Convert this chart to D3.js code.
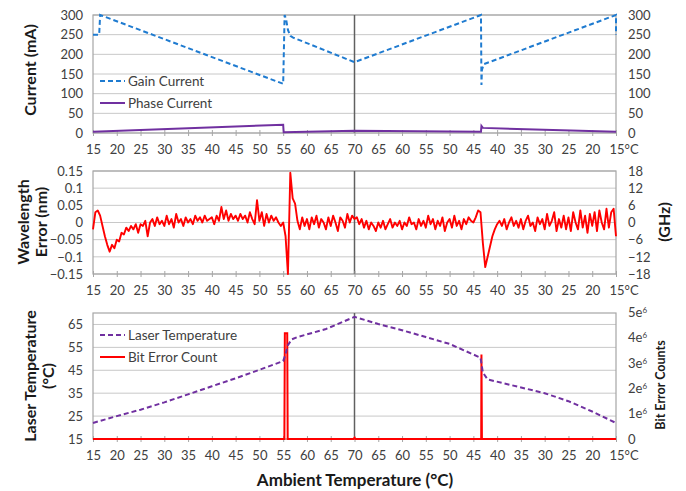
<!DOCTYPE html>
<html>
<head>
<meta charset="utf-8">
<script src="https://cdn.jsdelivr.net/npm/d3@7"></script>
<style>
  body { margin: 0; background: #fff; }
  svg { font-family: Lato, "Open Sans", sans-serif; }
</style>
</head>
<body>
<div id="chart"></div>
<script>
// sweep position: 0..55 = 15->70 °C heating, 55..110 = 70->15 °C cooling
var sweepTicks = d3.range(0, 111, 5);
var tickLabels = ["15","20","25","30","35","40","45","50","55","60","65","70",
                  "65","60","55","50","45","40","35","30","25","20","15°C"];

// top panel (mA)
var gainS   = [0, 1.3, 1.5, 40, 40.3, 40.6, 41, 41.5, 42, 55, 81.6, 81.7, 81.8, 82, 82.2, 110, 110];
var gainMA  = [250, 250, 300, 125, 300, 290, 262, 247, 243, 180, 300, 122, 160, 168, 175, 300, 250];
var phaseS  = [0, 40, 40.1, 55, 81.6, 81.7, 82, 110];
var phaseMA = [3, 21, 2, 6, 3, 18, 13, 3];

// middle panel, wavelength error (nm), one sample every 0.5 of sweep
var waveErr = [
  -0.02, 0.03, 0.035, 0.02, -0.01, -0.04, -0.065, -0.085, -0.065, -0.075,
  -0.05, -0.055, -0.03, -0.035, -0.015, -0.025, -0.01, -0.02, -0.005, -0.03,
  -0.005, -0.01, 0.005, -0.04, 0.0, 0.01, -0.01, 0.015, -0.005, 0.005,
  -0.01, 0.02, -0.005, 0.01, -0.015, 0.025, 0.0, 0.01, -0.01, 0.015,
  0.0, 0.01, -0.005, 0.02, 0.005, 0.015, 0.0, 0.02, 0.005, 0.01,
  0.015, -0.005, 0.02, 0.005, 0.045, 0.01, 0.035, 0.005, 0.025, 0.01,
  0.02, 0.005, 0.025, 0.01, 0.02, 0.0, 0.03, 0.01, -0.005, 0.065,
  0.005, 0.03, -0.01, 0.025, 0.0, 0.02, 0.005, 0.015, 0.0, -0.01,
  0.0, -0.04, -0.15, 0.145, 0.07, 0.055, 0.005, -0.02, 0.015, -0.01,
  0.01, -0.02, 0.015, -0.005, 0.02, -0.015, 0.01, 0.0, -0.02, 0.015,
  -0.01, 0.02, 0.0, -0.025, 0.015, 0.005, -0.015, 0.025, 0.0, 0.02,
  0.01, 0.015, -0.005, 0.01, -0.015, 0.005, -0.02, 0.0, -0.01, -0.025,
  0.0, -0.015, 0.005, -0.02, -0.005, 0.01, -0.015, 0.0, -0.01, 0.005,
  -0.02, 0.0, -0.01, 0.015, -0.005, 0.0, -0.02, 0.01, -0.01, 0.005,
  -0.015, 0.02, -0.005, 0.01, -0.02, 0.005, -0.01, 0.015, -0.025, 0.0,
  0.01, -0.015, 0.02, -0.01, 0.005, -0.02, 0.01, -0.005, 0.015, 0.005,
  0.0, 0.015, 0.035, 0.03, -0.06, -0.13, -0.1, -0.07, -0.04, -0.02,
  -0.005, 0.005, -0.01, 0.01, -0.02, 0.0, 0.015, -0.01, 0.005, -0.015,
  0.01, -0.02, 0.005, 0.02, -0.01, 0.0, -0.025, 0.015, -0.005, 0.01,
  -0.02, 0.025, -0.01, 0.005, 0.03, -0.025, 0.01, -0.015, 0.02, -0.02,
  0.015, -0.025, 0.03, 0.0, -0.02, 0.035, -0.015, 0.02, -0.03, 0.025,
  -0.01, 0.03, -0.025, 0.035, 0.0, -0.02, 0.04, -0.015, 0.03, 0.04,
  -0.04
];
var waveS = d3.range(waveErr.length).map(function(i) { return i * 0.5; });

// bottom panel
var laserS = [0, 5, 10, 15, 20, 25, 30, 35, 40, 40.5, 41, 41.8, 43, 49, 55, 60, 65, 70, 75, 81.5, 82, 83, 88, 95, 100, 105, 110];
var laserT = [22, 25, 27.8, 31, 34.5, 38, 41.5, 45.2, 49, 52, 56, 58.5, 59.5, 63, 68.3, 65.2, 62.5, 59.5, 56.5, 50.5, 44, 41, 38.5, 35, 31.5, 27, 22];
var berS   = [0, 40.25, 40.35, 40.85, 40.95, 54.8, 55, 55.2, 81.65, 81.7, 81.8, 110];
var berCnt = [0, 0, 4.2e6, 4.2e6, 0, 0, 0.05e6, 0, 0, 3.35e6, 0, 0];

var blue = "#1f7bd0", purple = "#7030a0", red = "#ff0000";
var txtCol = "#404040", gridCol = "#c8c8c8", boxCol = "#a6a6a6";

var W = 686, H = 491;
var svg = d3.select("#chart").append("svg").attr("width", W).attr("height", H);

var x = d3.scaleLinear().domain([0, 110]).range([93, 616]);

function panel(top, bottom, leftDomain, leftTicks, leftFmt, rightDomain, rightTicks, rightFmt) {
  var yl = d3.scaleLinear().domain(leftDomain).range([bottom, top]);
  var yr = d3.scaleLinear().domain(rightDomain).range([bottom, top]);
  var g = svg.append("g");

  // grid
  g.selectAll(".grid").data(leftTicks).enter().append("line")
    .attr("x1", x(0)).attr("x2", x(110))
    .attr("y1", function(d) { return yl(d); }).attr("y2", function(d) { return yl(d); })
    .attr("stroke", gridCol).attr("stroke-width", 1);

  // box
  g.append("rect").attr("x", x(0)).attr("y", top)
    .attr("width", x(110) - x(0)).attr("height", bottom - top)
    .attr("fill", "none").attr("stroke", boxCol).attr("stroke-width", 1.2);

  // turning point at 70 °C
  g.append("line").attr("x1", x(55)).attr("x2", x(55)).attr("y1", top).attr("y2", bottom)
    .attr("stroke", "#606060").attr("stroke-width", 1.5);

  // left axis
  g.append("g").attr("transform", "translate(" + x(0) + ",0)")
    .call(d3.axisLeft(yl).tickValues(leftTicks).tickFormat(leftFmt).tickSize(0).tickPadding(10))
    .call(function(a) { a.select(".domain").remove(); });

  // right axis
  g.append("g").attr("transform", "translate(" + x(110) + ",0)")
    .call(d3.axisRight(yr).tickValues(rightTicks).tickFormat(rightFmt).tickSize(0).tickPadding(12))
    .call(function(a) { a.select(".domain").remove(); });

  // bottom axis
  var xa = g.append("g").attr("transform", "translate(0," + bottom + ")")
    .call(d3.axisBottom(x).tickValues(sweepTicks).tickSize(3).tickPadding(9)
      .tickFormat(function(d, i) { return tickLabels[i]; }));
  xa.select(".domain").remove();
  xa.selectAll(".tick line").attr("y1", -3).attr("stroke", boxCol);
  xa.selectAll(".tick text").filter(function(d, i) { return i === sweepTicks.length - 1; })
    .attr("text-anchor", "start").attr("dx", "-7");

  g.selectAll(".tick text").attr("fill", txtCol).style("font-size", "13px")
    .style("font-family", "Lato, 'Open Sans', sans-serif");

  return { g: g, yl: yl, yr: yr };
}

function pairs(xs, ys) { return xs.map(function(v, i) { return [v, ys[i]]; }); }

// ---------- top panel ----------
var p1 = panel(15, 133, [0, 300], d3.range(0, 301, 50), d3.format("d"),
               [0, 300], d3.range(0, 301, 50), d3.format("d"));
var l1 = d3.line().x(function(d) { return x(d[0]); }).y(function(d) { return p1.yl(d[1]); });
p1.g.append("path").datum(pairs(phaseS, phaseMA)).attr("d", l1)
  .attr("fill", "none").attr("stroke", purple).attr("stroke-width", 2);
p1.g.append("path").datum(pairs(gainS, gainMA)).attr("d", l1)
  .attr("fill", "none").attr("stroke", blue).attr("stroke-width", 2).attr("stroke-dasharray", "5,3");

// ---------- middle panel ----------
var p2 = panel(171, 274, [-0.15, 0.15], [-0.15, -0.1, -0.05, 0, 0.05, 0.1, 0.15],
               function(d) { return d === 0 ? "0" : d3.format("")(+d.toFixed(2)); },
               [-18, 18], d3.range(-18, 19, 6), d3.format("d"));
var l2 = d3.line().x(function(d) { return x(d[0]); }).y(function(d) { return p2.yl(d[1]); });
p2.g.append("path").datum(pairs(waveS, waveErr)).attr("d", l2)
  .attr("fill", "none").attr("stroke", red).attr("stroke-width", 1.9).attr("stroke-linejoin", "round");

// ---------- bottom panel ----------
var p3 = panel(313, 439, [15, 70], d3.range(15, 66, 10), d3.format("d"),
               [0, 5e6], d3.range(0, 5e6 + 1, 1e6), function(d) { return d === 0 ? "0" : ""; });
var l3a = d3.line().x(function(d) { return x(d[0]); }).y(function(d) { return p3.yl(d[1]); });
var l3b = d3.line().x(function(d) { return x(d[0]); }).y(function(d) { return p3.yr(d[1]); });
p3.g.append("path").datum(pairs(berS, berCnt)).attr("d", l3b)
  .attr("fill", "none").attr("stroke", red).attr("stroke-width", 2);
p3.g.append("path").datum(pairs(laserS, laserT)).attr("d", l3a)
  .attr("fill", "none").attr("stroke", purple).attr("stroke-width", 2).attr("stroke-dasharray", "5,3");

// right-axis labels as mantissa + superscript
p3.g.selectAll(".sup").data([1, 2, 3, 4, 5]).enter().append("text")
  .attr("x", x(110) + 12).attr("y", function(d) { return p3.yr(d * 1e6); }).attr("dy", "0.32em")
  .attr("fill", txtCol).style("font-size", "13px")
  .text(function(d) { return d + "e"; })
  .append("tspan").attr("dy", "-0.5em").style("font-size", "8px").text("6");

// ---------- legends ----------
function legend(items, lx, ly) {
  items.forEach(function(it, i) {
    var yy = ly + i * 22;
    svg.append("line").attr("x1", lx).attr("x2", lx + 25).attr("y1", yy).attr("y2", yy)
      .attr("stroke", it.c).attr("stroke-width", 2).attr("stroke-dasharray", it.dash ? "5,3" : null);
    svg.append("text").attr("x", lx + 28).attr("y", yy).attr("dy", "0.35em")
      .attr("fill", txtCol).style("font-size", "13.5px").text(it.t);
  });
}
legend([{ t: "Gain Current", c: blue, dash: true }, { t: "Phase Current", c: purple }], 100, 81);
legend([{ t: "Laser Temperature", c: purple, dash: true }, { t: "Bit Error Count", c: red }], 100, 335);

// ---------- axis titles ----------
function vtitle(lines, cx, cy, size) {
  var t = svg.append("text").attr("transform", "translate(" + cx + "," + cy + ") rotate(-90)")
    .attr("text-anchor", "middle").attr("fill", "#1a1a1a")
    .style("font-size", size + "px").style("font-weight", "bold");
  lines.forEach(function(s, i) {
    t.append("tspan").attr("x", 0).attr("dy", i === 0 ? 0 : "1.15em").text(s);
  });
}
vtitle(["Current (mA)"], 36, 70, 16);
vtitle(["Wavelength", "Error (nm)"], 29, 222, 16);
vtitle(["(GHz)"], 670, 222, 16);
vtitle(["Laser Temperature", "(°C)"], 36, 376, 16);
vtitle(["Bit Error Counts"], 665, 385, 12.5);

svg.append("text").attr("x", 355).attr("y", 486).attr("text-anchor", "middle")
  .attr("fill", "#1a1a1a").style("font-size", "17px").style("font-weight", "bold")
  .text("Ambient Temperature (°C)");
</script>
</body>
</html>
